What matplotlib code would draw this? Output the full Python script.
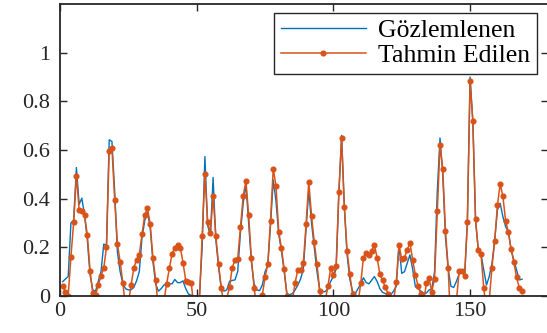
import matplotlib
matplotlib.use('Agg')
import matplotlib.pyplot as plt
import numpy as np

plt.rcParams['font.family'] = ['Liberation Serif', 'DejaVu Serif']

# observed series (Gözlemlenen), index 1..169
observed = [0.059, 0.07, 0.08, 0.3, 0.313, 0.528, 0.377, 0.402, 0.33, 0.23,
            0.086, 0.025, 0.02, 0.06, 0.1, 0.213, 0.21, 0.642, 0.635, 0.43,
            0.18, 0.1, 0.05, 0.03, 0.025, 0.026, 0.035, 0.062, 0.1, 0.24,
            0.31, 0.345, 0.28, 0.14, 0.05, 0.02, 0.03, 0.045, 0.05, 0.05,
            0.05, 0.068, 0.055, 0.055, 0.062, 0.03, 0.008, 0.003, 0.0, 0.0,
            0.0, 0.2, 0.573, 0.29, 0.25, 0.487, 0.23, 0.12, 0.03, 0.02,
            0.025, 0.06, 0.064, 0.066, 0.1, 0.26, 0.38, 0.46, 0.3, 0.14,
            0.05, 0.025, 0.022, 0.045, 0.1, 0.125, 0.29, 0.477, 0.39, 0.255,
            0.185, 0.1, 0.01, 0.005, 0.01, 0.025, 0.045, 0.07, 0.11, 0.27,
            0.436, 0.3, 0.2, 0.1, 0.025, 0.018, 0.018, 0.03, 0.06, 0.08,
            0.11, 0.42, 0.66, 0.37, 0.17, 0.07, 0.02, 0.01, 0.03, 0.05,
            0.075, 0.055, 0.05, 0.065, 0.08, 0.06, 0.03, 0.015, 0.01, 0.005,
            0.005, 0.02, 0.04, 0.21, 0.093, 0.1, 0.134, 0.169, 0.11, 0.038,
            0.03, 0.02, 0.012, 0.012, 0.025, 0.03, 0.1, 0.43, 0.649, 0.5,
            0.24, 0.11, 0.04, 0.035, 0.06, 0.09, 0.1, 0.08, 0.3, 0.9,
            0.72, 0.31, 0.19, 0.17, 0.107, 0.045, 0.08, 0.134, 0.23, 0.354,
            0.381, 0.326, 0.285, 0.265, 0.19, 0.148, 0.107, 0.066, 0.069]

# predicted series (Tahmin Edilen)
predicted = [0.041, 0.018, 0.001, 0.162, 0.303, 0.495, 0.355, 0.35, 0.332, 0.25,
             0.104, 0.011, 0.004, 0.045, 0.084, 0.114, 0.2, 0.597, 0.608, 0.396,
             0.214, 0.141, 0.052, -0.05, -0.03, 0.046, 0.114, 0.15, 0.169, 0.254,
             0.333, 0.36, 0.295, 0.155, 0.067, -0.06, -0.08, -0.02, 0.049, 0.114,
             0.173, 0.199, 0.211, 0.199, 0.137, 0.063, 0.059, 0.055, -0.05, -0.08,
             -0.02, 0.248, 0.5, 0.306, 0.258, 0.409, 0.247, 0.13, 0.032, -0.04,
             -0.01, 0.036, 0.117, 0.148, 0.152, 0.283, 0.409, 0.473, 0.333, 0.155,
             0.034, -0.05, -0.03, 0.004, 0.078, 0.13, 0.309, 0.523, 0.453, 0.265,
             0.196, 0.111, 0.002, -0.04, -0.02, 0.055, 0.108, 0.108, 0.134, 0.294,
             0.468, 0.33, 0.222, 0.131, 0.022, -0.04, -0.02, 0.04, 0.114, 0.086,
             0.124, 0.428, 0.649, 0.365, 0.186, 0.09, 0.007, -0.05, -0.03, 0.052,
             0.158, 0.178, 0.17, 0.186, 0.211, 0.156, 0.091, 0.064, 0.038, 0.009,
             -0.04, -0.02, 0.059, 0.211, 0.151, 0.157, 0.189, 0.219, 0.148, 0.086,
             0.04, 0.008, -0.03, 0.053, 0.073, 0.018, 0.07, 0.35, 0.62, 0.521,
             0.267, 0.115, -0.15, -0.12, -0.02, 0.103, 0.104, 0.084, 0.303, 0.882,
             0.72, 0.315, 0.189, 0.171, 0.032, -0.06, -0.02, 0.117, 0.226, 0.372,
             0.461, 0.409, 0.309, 0.263, 0.193, 0.139, 0.077, 0.034, 0.021]

xticks = [0, 50, 100, 150]
yticks = [0, 0.2, 0.4, 0.6, 0.8, 1]
ytick_labels = ['0', '0.2', '0.4', '0.6', '0.8', '1']

x = np.arange(1, len(observed) + 1)

fig = plt.figure(figsize=(5.47, 3.33), dpi=100)
ax = fig.add_axes([60 / 547, 37 / 333, 488 / 547, 292 / 333])

ax.plot(x, observed, color='#0072BD', lw=1.0, label='Gözlemlenen')
ax.plot(x, predicted, color='#D95319', lw=1.1, marker='o', ms=3.4,
        label='Tahmin Edilen')

ax.set_xlim(0, 178.5)
ax.set_ylim(0, 1.2)
ax.set_xticks(xticks)
ax.set_yticks(yticks)
ax.set_yticklabels(ytick_labels)
ax.tick_params(direction='in', length=5, width=1, labelsize=16,
               top=True, right=True, colors='#262626', pad=7)
ax.tick_params(axis='x', pad=4)
for sp in ax.spines.values():
    sp.set_color('#262626')
    sp.set_linewidth(1.3)

leg = ax.legend(loc='upper right', bbox_to_anchor=(537 / 547, 1 - 13 / 333),
                bbox_transform=fig.transFigure, borderaxespad=0,
                fontsize=18.5, handlelength=3.3, handletextpad=0.5,
                borderpad=0.25, labelspacing=0.08, fancybox=False, framealpha=1)
leg.get_frame().set_edgecolor('#262626')
leg.get_frame().set_linewidth(1.0)

fig.savefig('out.png', dpi=100)
